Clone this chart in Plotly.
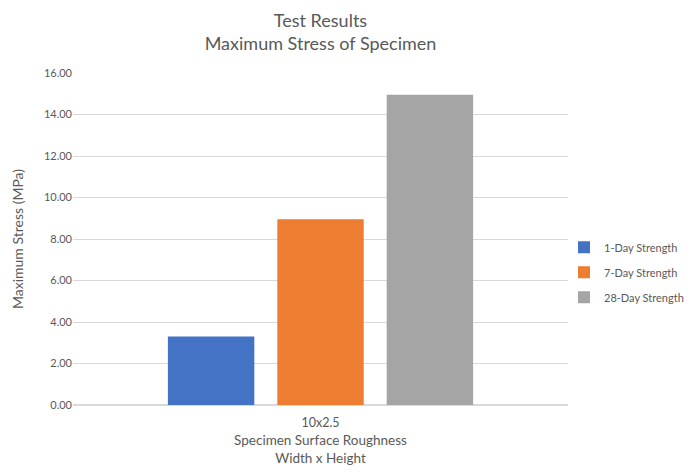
import plotly.graph_objects as go

categories = ["10x2.5"]
series_names = ["1-Day Strength", "7-Day Strength", "28-Day Strength"]
series_values = [[3.30], [8.95], [14.95]]
series_colors = ["#4472C4", "#ED7D31", "#A5A5A5"]
y_ticks = [0, 2, 4, 6, 8, 10, 12, 14, 16]

fig = go.Figure()
for name, vals, col in zip(series_names, series_values, series_colors):
    fig.add_trace(go.Bar(x=categories, y=vals, name=name, marker_color=col,
                         marker_line_width=0, legendgroup=name))

font_family = "Lato, Open Sans, sans-serif"
fig.update_layout(
    width=691, height=472,
    margin=dict(l=73, r=123, t=73, b=67, autoexpand=False),
    paper_bgcolor="white", plot_bgcolor="white",
    font=dict(family=font_family, color="#595959", size=11),
    title=dict(text="Test Results<br>Maximum Stress of Specimen",
               x=0.5, xref="paper", xanchor="center",
               y=1 - 27 / 472, yref="container", yanchor="middle",
               font=dict(size=18, color="#595959")),
    barmode="group", bargap=0.337, bargroupgap=0.21,
    legend=dict(x=564 / 691, y=0.423, yref="container", xref="container",
                yanchor="middle", xanchor="left", itemwidth=30,
                font=dict(size=11, color="#595959"),
                bgcolor="rgba(0,0,0,0)", tracegroupgap=6),
    showlegend=True,
)
fig.update_yaxes(range=[0, 16], tickvals=y_ticks, tickformat=".2f",
                 showgrid=True, gridcolor="#D9D9D9", gridwidth=1,
                 zeroline=True, zerolinecolor="#D9D9D9",
                 ticks="", ticklen=0, tickfont=dict(size=11, color="#595959"),
                 title=dict(text="Maximum Stress (MPa)", font=dict(size=14, color="#595959"), standoff=16))
fig.update_xaxes(showline=True, linecolor="#D9D9D9", ticks="",
                 ticklabelstandoff=6,
                 tickfont=dict(size=12.5, color="#595959"),
                 title=dict(text="Specimen Surface Roughness<br>Width x Height",
                            font=dict(size=13.5, color="#595959"), standoff=6))

fig.write_html("out.html")
